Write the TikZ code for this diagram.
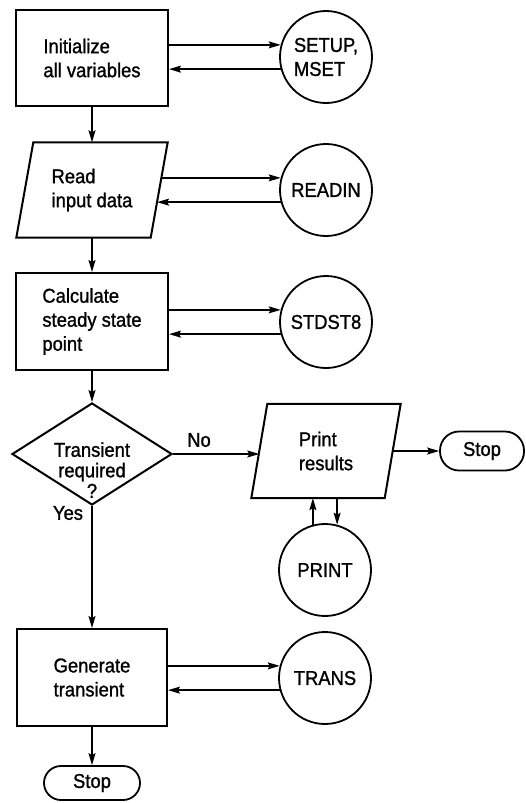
\documentclass[tikz,border=0pt]{standalone}
\usepackage{fontspec}
\setmainfont{Liberation Sans}[FakeStretch=0.92,FakeBold=1.2]
\usetikzlibrary{arrows.meta,calc,shapes.geometric}
\begin{document}
\begin{tikzpicture}[x=1pt,y=-1pt,
  every node/.style={font=\fontsize{20}{24}\selectfont, inner sep=0pt},
  procbox/.style={draw, line width=2pt, minimum width=152pt, minimum height=96pt, align=left},
  iobox/.style={minimum width=134pt, minimum height=95pt, align=left},
  sub/.style={draw, circle, line width=1.8pt, minimum size=92pt, align=left},
  term/.style={draw, line width=1.8pt, minimum width=96pt, minimum height=34pt, rounded corners=17pt},
  decision/.style={draw, diamond, line width=2pt, minimum width=160pt, minimum height=102pt},
  flow/.style={line width=1.4pt, -{Stealth[length=12pt,width=7pt,inset=2pt]}},
  iolines/.style={line width=2pt, line join=miter}
]
\useasboundingbox (0,0) rectangle (526,803);

% main column
\node[procbox] (init) at (92,58) {Initialize\\all variables};
\node[iobox] (read) at (92,190) {Read\\input data};
\draw[iolines] ($(read.north west)+(8.5,0)$) -- ($(read.north east)+(8.5,0)$)
  -- ($(read.south east)+(-8.5,0)$) -- ($(read.south west)+(-8.5,0)$) -- cycle;
\node[procbox, minimum height=97pt] (calc) at (92,321.5) {Calculate\\steady state\\point};
\node[decision] (dec) at (92,454) {};
\node[align=center, font=\fontsize{20}{20.5}\selectfont] (dectext) at (92,470) {Transient\\required\\?};
\node[procbox, minimum width=150pt, minimum height=97pt] (gen) at (92,677.5) {Generate\\transient};
\node[term] (stopb) at (92,783) {Stop};

% subroutines
\node[sub] (setup) at (326,57) {SETUP,\\MSET};
\node[sub] (readin) at (326,190) {READIN};
\node[sub] (stdst) at (326,322) {STDST8};
\node[sub] (printc) at (325,570) {PRINT};
\node[sub] (trans) at (325,678) {TRANS};

% output branch
\node[iobox, minimum width=133pt, minimum height=94pt] (print) at (326,451) {Print\\results};
\draw[iolines] ($(print.north west)+(8,0)$) -- ($(print.north east)+(8,0)$)
  -- ($(print.south east)+(-8,0)$) -- ($(print.south west)+(-8,0)$) -- cycle;
\node[term, minimum width=84pt, minimum height=39pt, rounded corners=19pt] (stopa) at (482,451) {Stop};

% labels
\node (no) at (199,440) {No};
\node (yes) at (68,513) {Yes};

% main flow
\draw[flow] (init.south) -- (read.north);
\draw[flow] (read.south) -- (calc.north);
\draw[flow] (calc.south) -- (dec.north);
\draw[flow] (dec.south) -- (gen.north);
\draw[flow] (gen.south) -- (stopb.north);
\draw[flow] (dec.east) -- (dec.east -| print.west);
\draw[flow] (print.east) -- (stopa.west);

% calls to subroutines
\draw[flow] (init.east |- setup.165) -- (setup.165);
\draw[flow] (setup.195) -- (init.east |- setup.195);

\coordinate (readR1) at ($(read.east)+(2.1,0)$);
\coordinate (readR2) at ($(read.east)+(-2.1,0)$);
\draw[flow] (readin.165 -| readR1) -- (readin.165);
\draw[flow] (readin.195) -- (readin.195 -| readR2);

\draw[flow] (calc.east |- stdst.165) -- (stdst.165);
\draw[flow] (stdst.195) -- (calc.east |- stdst.195);

\draw[flow] (printc.105) -- (printc.105 |- print.south);
\draw[flow] (printc.75 |- print.south) -- (printc.75);

\draw[flow] (gen.east |- trans.165) -- (trans.165);
\draw[flow] (trans.195) -- (gen.east |- trans.195);
\end{tikzpicture}
\end{document}
